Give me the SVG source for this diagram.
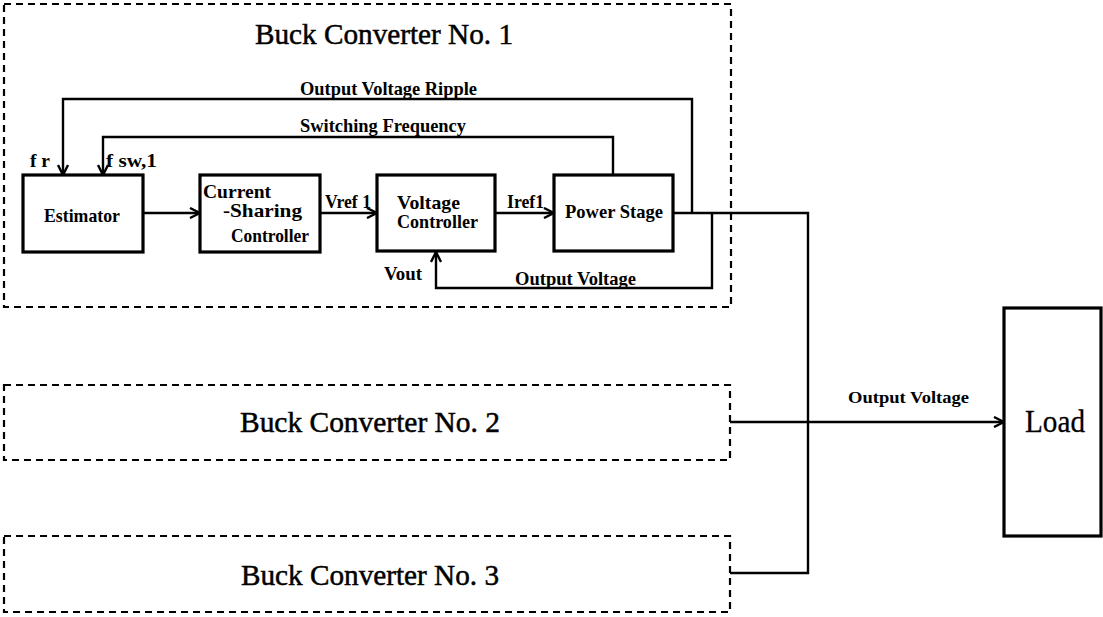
<svg xmlns="http://www.w3.org/2000/svg" width="1103" height="617" viewBox="0 0 1103 617">
<style>
.bg{fill:#fff}
.dash{fill:none;stroke:#000;stroke-width:2.2;stroke-dasharray:7 5}
.blk{fill:#fff;stroke:#000;stroke-width:3.2}
.ln{fill:none;stroke:#000;stroke-width:2.4}
.arr{fill:none;stroke:#000;stroke-width:2.4;marker-end:url(#ah)}
.t{font-family:"Liberation Serif","Times New Roman",serif;fill:#000}
.title{font-size:30px;stroke:#000;stroke-width:0.5}
.lab{font-size:19px;font-weight:bold}
.sm{font-size:16px;font-weight:bold}
.load{font-size:31px;stroke:#000;stroke-width:0.3}
</style>
<defs>
<marker id="ah" viewBox="0 0 12 12" refX="11" refY="6" markerWidth="12" markerHeight="12" markerUnits="userSpaceOnUse" orient="auto">
<path d="M1,1 L11,6 L1,11" fill="none" stroke="#000" stroke-width="2.4"/>
</marker>
</defs>
<rect class="bg" x="0" y="0" width="1103" height="617"/>

<g id="converter1">
<rect class="dash" x="4" y="4" width="727" height="303"/>
<text class="t title" x="384" y="44" text-anchor="middle" textLength="258" lengthAdjust="spacingAndGlyphs">Buck Converter No. 1</text>
</g>
<g id="converter2">
<rect class="dash" x="4" y="385" width="726" height="75"/>
<text class="t title" x="370" y="432" text-anchor="middle" textLength="260" lengthAdjust="spacingAndGlyphs">Buck Converter No. 2</text>
</g>
<g id="converter3">
<rect class="dash" x="4" y="536" width="726" height="76"/>
<text class="t title" x="370" y="585" text-anchor="middle" textLength="258" lengthAdjust="spacingAndGlyphs">Buck Converter No. 3</text>
</g>

<g id="estimator">
<rect class="blk" x="23" y="175" width="120" height="77"/>
<text class="t lab" x="44" y="222" textLength="76" lengthAdjust="spacingAndGlyphs">Estimator</text>
</g>
<g id="current-sharing">
<rect class="blk" x="200" y="175" width="120" height="77"/>
<text class="t lab" x="203" y="198" textLength="68" lengthAdjust="spacingAndGlyphs">Current</text>
<text class="t lab" x="223" y="217" textLength="79" lengthAdjust="spacingAndGlyphs">-Sharing</text>
<text class="t lab" x="231" y="242" textLength="78" lengthAdjust="spacingAndGlyphs">Controller</text>
</g>
<g id="voltage-controller">
<rect class="blk" x="377" y="175" width="118" height="76"/>
<text class="t lab" x="397" y="209" textLength="63" lengthAdjust="spacingAndGlyphs">Voltage</text>
<text class="t lab" x="397" y="228" textLength="81" lengthAdjust="spacingAndGlyphs">Controller</text>
</g>
<g id="power-stage">
<rect class="blk" x="554" y="175" width="119" height="76"/>
<text class="t lab" x="565" y="218" textLength="98" lengthAdjust="spacingAndGlyphs">Power Stage</text>
</g>
<g id="load">
<rect class="blk" x="1004" y="308" width="97" height="228"/>
<text class="t load" x="1025" y="432" textLength="60" lengthAdjust="spacingAndGlyphs">Load</text>
</g>

<g id="connectors">
<polyline class="arr" points="692,213 692,99 63,99 63,175"/>
<polyline class="arr" points="613,175 613,137 103,137 103,175"/>
<line class="arr" x1="143" y1="213" x2="200" y2="213"/>
<line class="arr" x1="320" y1="213" x2="377" y2="213"/>
<line class="arr" x1="495" y1="213" x2="554" y2="213"/>
<polyline class="ln" points="673,213 808,213 808,573 730,573"/>
<polyline class="arr" points="712,213 712,288 436,288 436,252"/>
<line class="arr" x1="730" y1="422" x2="1004" y2="422"/>
</g>

<g id="labels">
<text class="t lab" x="300" y="95" textLength="177" lengthAdjust="spacingAndGlyphs">Output Voltage Ripple</text>
<text class="t lab" x="300" y="132" textLength="166" lengthAdjust="spacingAndGlyphs">Switching Frequency</text>
<text class="t lab" x="30" y="167" textLength="20" lengthAdjust="spacingAndGlyphs">f r</text>
<text class="t lab" x="106" y="167" textLength="51" lengthAdjust="spacingAndGlyphs">f sw,1</text>
<text class="t lab" x="325" y="208" textLength="46" lengthAdjust="spacingAndGlyphs">Vref 1</text>
<text class="t lab" x="507" y="208" textLength="37" lengthAdjust="spacingAndGlyphs">Iref1</text>
<text class="t lab" x="384" y="280" textLength="38" lengthAdjust="spacingAndGlyphs">Vout</text>
<text class="t lab" x="515" y="285" textLength="121" lengthAdjust="spacingAndGlyphs">Output Voltage</text>
<text class="t sm" x="848" y="403" textLength="121" lengthAdjust="spacingAndGlyphs">Output Voltage</text>
</g>
</svg>
